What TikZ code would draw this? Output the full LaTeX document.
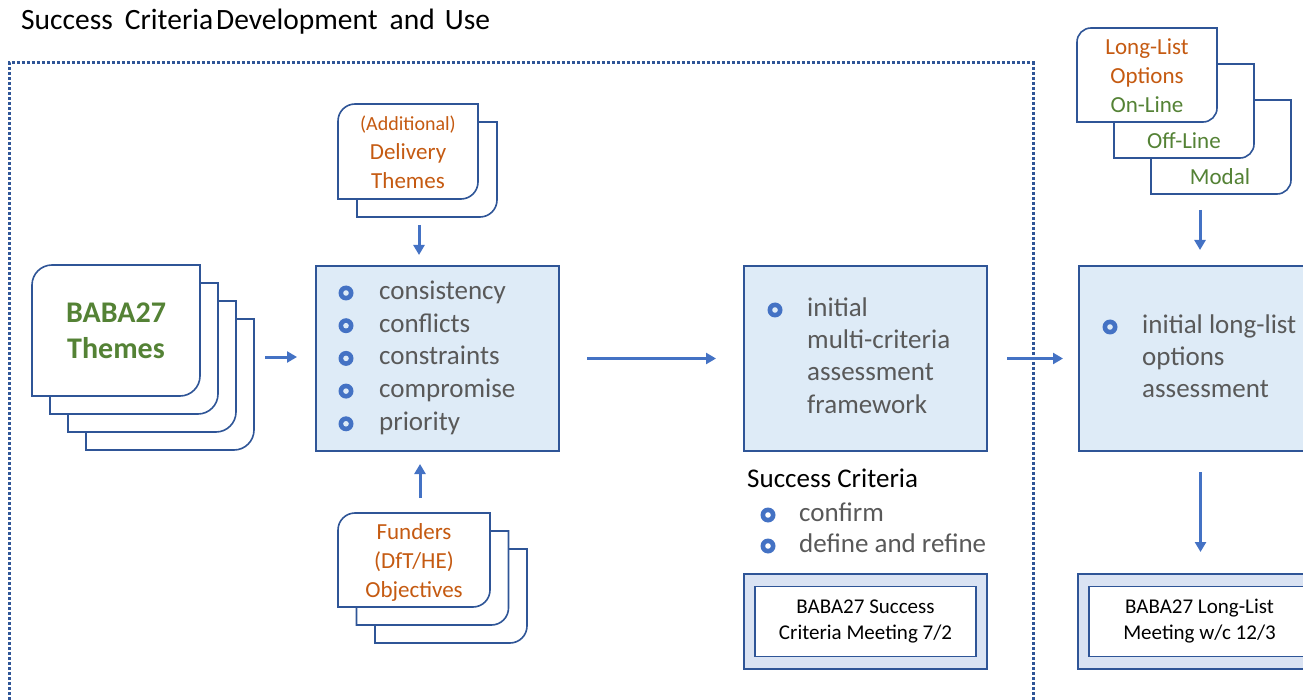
\documentclass[tikz,border=0pt]{standalone}
\usepackage{fontspec}
\setmainfont{Carlito}
\usetikzlibrary{arrows.meta}
\usetikzlibrary{positioning}

\definecolor{boxline}{HTML}{2F5597}
\definecolor{boxfill}{HTML}{DEEBF7}
\definecolor{meetfill}{HTML}{DAE3F3}
\definecolor{arrowblue}{HTML}{4472C4}
\definecolor{bodygray}{HTML}{595959}
\definecolor{themeorange}{HTML}{C55A11}
\definecolor{themegreen}{HTML}{548235}

% card with rounded top-left and bottom-right corners: [radius]{x1}{y1}{x2}{y2}
\newcommand{\drawcard}[5][18]{%
  \filldraw[card] (#2,#5) -- (#2,#3+#1) .. controls (#2,#3+0.45*#1) and (#2+0.45*#1,#3) .. (#2+#1,#3)
    -- (#4,#3) -- (#4,#5-#1) .. controls (#4,#5-0.45*#1) and (#4-0.45*#1,#5) .. (#4-#1,#5) -- cycle;}

\tikzset{
  card/.style={draw=boxline, line width=1.6pt, fill=white},
  bluebox/.style={draw=boxline, line width=2pt, fill=boxfill, anchor=north west,
    minimum width=243pt, minimum height=185pt, inner sep=0pt},
  meetbox/.style={draw=boxline, line width=2pt, fill=meetfill, anchor=north west,
    minimum width=243pt, minimum height=95pt, inner sep=0pt},
  meetinner/.style={draw=boxline, line width=1.6pt, fill=white, minimum width=221pt,
    minimum height=70pt, align=center, font=\fontsize{21}{26}\selectfont},
  ring/.style={circle, fill=arrowblue, minimum size=15pt, inner sep=0pt,
    path picture={\fill[#1] (path picture bounding box.center) circle[radius=2.8pt];}},
  ring/.default=boxfill,
  item/.style={anchor=west, inner sep=0pt, text=bodygray, text height=18pt, text depth=5pt,
    font=\fontsize{27}{31}\selectfont},
  orangetext/.style={align=center, text=themeorange, font=\fontsize{23}{29}\selectfont},
  greentext/.style={align=center, text=themegreen, font=\fontsize{23}{29}\selectfont},
  flow/.style={draw=arrowblue, line width=3pt, -{Triangle[length=10pt,width=11pt]}},
  frame/.style={draw=boxline, line width=3pt, dash pattern=on 3pt off 2pt}
}

\begin{document}
\begin{tikzpicture}[x=1pt,y=-1pt]
  \useasboundingbox (0,0) rectangle (1303,700);
  \clip (0,0) rectangle (1303,700);

  \node[anchor=west, inner sep=0pt, text height=19pt, text depth=6pt,
    font=\fontsize{29.5}{34}\selectfont] (title) at (21,23)
    {Success\hspace{12pt}Criteria\hspace{3pt}Development\hspace{12pt}and\hspace{10pt}Use};

  \draw[frame] (9,720) |- (1033,63) -- (1033,720);

  % theme cards
  \foreach \k in {3,2,1,0} \drawcard[20]{32+18*\k}{265+18*\k}{200+18*\k}{396+18*\k};
  \node[align=center, text=themegreen, font=\bfseries\fontsize{30}{36}\selectfont] (themes) at (116,331) {BABA27\\Themes};
  \coordinate (themesedge) at (254,357);

  \foreach \k in {1,0} \drawcard[17]{338+19*\k}{104+18*\k}{478+19*\k}{199+18*\k};
  \node[orangetext] (delivery) at (408,152) {{\fontsize{20}{24}\selectfont(Additional)}\\Delivery\\Themes};
  \coordinate (deliveryedge) at (419,217);

  \foreach \k in {2,1,0} \drawcard[17]{338+18.5*\k}{513+18*\k}{490+18.5*\k}{607+18*\k};
  \node[orangetext] (funders) at (414,562) {Funders\\(DfT/HE)\\Objectives};
  \coordinate (fundersedge) at (420,513);

  \foreach \k in {2,1,0} \drawcard[14]{1077+37*\k}{28+36*\k}{1217+37*\k}{122+36*\k};
  \node[orangetext] (options) at (1147,76) {Long-List\\Options\\\textcolor{themegreen}{On-Line}};
  \node[greentext] (offline) at (1184,141) {Off-Line};
  \node[greentext] (modal) at (1220,177) {Modal};
  \coordinate (optionsedge) at (1200,194);

  % process boxes
  \node[bluebox] (checks) at (315,265) {};
  \foreach \txt [count=\i from 0] in {consistency,conflicts,constraints,compromise,priority}{
    \node[ring] (checkdot\i) at (346,293+32.7*\i) {};
    \node[item] (check\i) at (379,293+32.7*\i) {\txt};
  }

  \node[bluebox] (mcaf) at (743,265) {};
  \node[ring] (mcafdot) at (775,310) {};
  \foreach \txt [count=\i from 0] in {initial,multi-criteria,assessment,framework}
    \node[item] (mcaf\i) at (807,310+32.2*\i) {\txt};

  \node[item, text=black] (sctitle) at (747,481) {Success Criteria};
  \foreach \txt [count=\i from 0] in {confirm,define and refine}{
    \node[ring=white] (scdot\i) at (768,515+31*\i) {};
    \node[item] (sc\i) at (799,515+31*\i) {\txt};
  }

  \node[meetbox] (scmeet) at (743,573) {};
  \node[meetinner] (scmeettext) at (scmeet.center) {BABA27 Success\\Criteria Meeting 7/2};

  \node[bluebox] (longlist) at (1078,265) {};
  \node[ring] (longlistdot) at (1110,327) {};
  \foreach \txt [count=\i from 0] in {initial long-list,options,assessment}
    \node[item] (longlist\i) at (1142,327+32*\i) {\txt};

  \node[meetbox] (llmeet) at (1077,573) {};
  \node[meetinner] (llmeettext) at (llmeet.center) {BABA27 Long-List\\Meeting w/c 12/3};

  % arrows
  \draw[flow, shorten <=11pt, shorten >=18pt] (themesedge) -- (themesedge -| checks.west);
  \draw[flow, shorten <=8pt, shorten >=10pt] (deliveryedge) -- (deliveryedge |- checks.north);
  \draw[flow, shorten <=15pt, shorten >=12pt] (fundersedge) -- (fundersedge |- checks.south);
  \draw[flow, shorten <=27pt, shorten >=27pt] (checks.east) -- (mcaf.west);
  \draw[flow, shorten <=19pt, shorten >=15pt] (mcaf.east) -- (longlist.west);
  \draw[flow, shorten <=16pt, shorten >=15pt] (optionsedge) -- (optionsedge |- longlist.north);
  \draw[flow, shorten <=20pt, shorten >=21pt] (longlist.south) -- (longlist.south |- llmeet.north);
\end{tikzpicture}
\end{document}
